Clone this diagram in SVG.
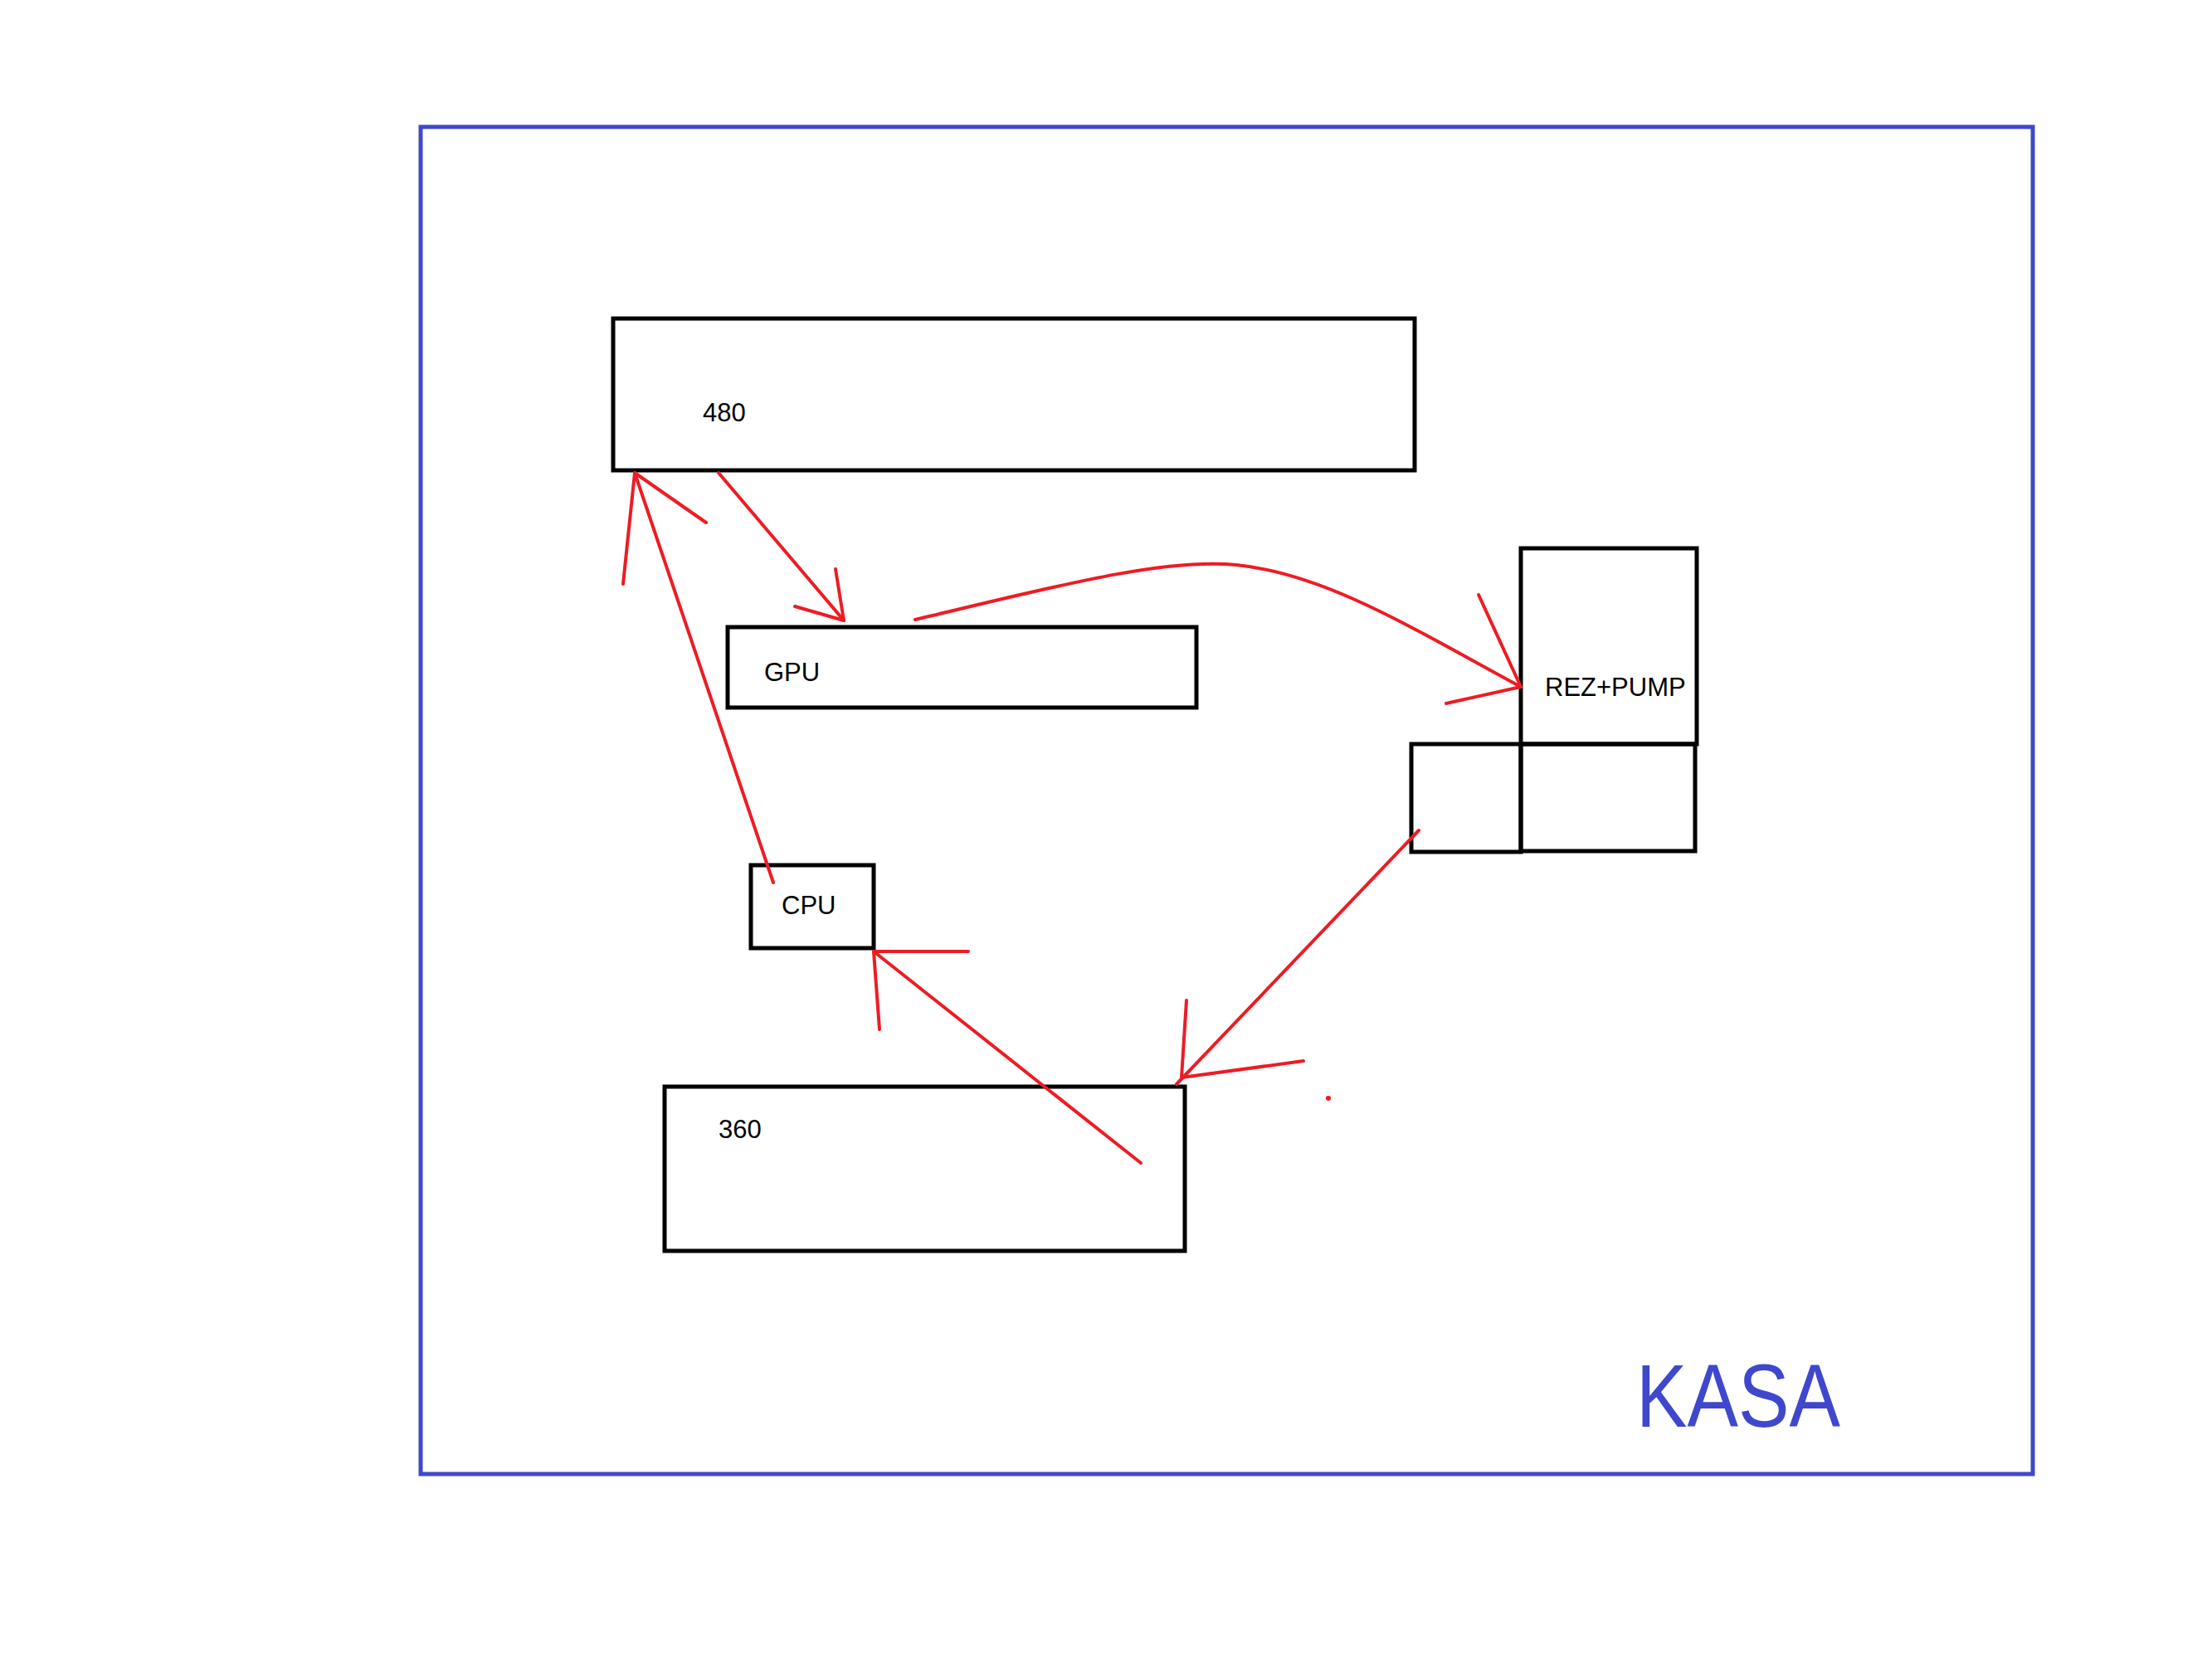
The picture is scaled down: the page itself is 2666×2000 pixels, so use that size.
<svg xmlns="http://www.w3.org/2000/svg" width="2666" height="2000" viewBox="0 0 2666 2000">
<style>
.box{fill:none;stroke:#000;stroke-width:5}
.lbl{font-family:"Liberation Sans","DejaVu Sans",sans-serif;font-size:31px;fill:#000}
.red{fill:none;stroke:#ED1C24;stroke-width:4;stroke-linecap:round;stroke-linejoin:round}
</style>
<rect width="2666" height="2000" fill="#fff"/>
<g id="kasa">
<rect x="507" y="153" width="1943" height="1624" fill="none" stroke="#3F48CC" stroke-width="5"/>
<text x="1972" y="1720" font-family="Liberation Sans, sans-serif" font-size="108" fill="#3F48CC" textLength="246" lengthAdjust="spacingAndGlyphs">KASA</text>
</g>
<g id="rad480">
<rect class="box" x="739" y="384" width="966" height="183"/>
<text class="lbl" x="847" y="508" font-size="33">480</text>
</g>
<g id="gpu">
<rect class="box" x="877" y="756" width="565" height="97"/>
<text class="lbl" x="921" y="821">GPU</text>
</g>
<g id="cpu">
<rect class="box" x="905" y="1043" width="148" height="100"/>
<text class="lbl" x="942" y="1102">CPU</text>
</g>
<g id="rad360">
<rect class="box" x="801" y="1310" width="627" height="198"/>
<text class="lbl" x="866" y="1372" font-size="32">360</text>
</g>
<g id="rezpump">
<rect class="box" x="1833" y="661" width="212" height="236"/>
<rect class="box" x="1701" y="897" width="132" height="130"/>
<rect class="box" x="1833" y="897" width="210" height="129"/>
<text class="lbl" x="1862" y="839">REZ+PUMP</text>
</g>
<g id="connectors">
<line class="red" x1="932" y1="1064" x2="765" y2="570"/>
<polyline class="red" points="751,704 765,570 851,630"/>
<line class="red" x1="866" y1="570" x2="1017" y2="748"/>
<polyline class="red" points="1007,686 1017,748 958,731"/>
<path class="red" stroke-width="4.5" d="M1103,747 C1260,710 1400,672 1490,681 C1600,692 1710,762 1833,828"/>
<polyline class="red" points="1782,717 1833,828 1743,848"/>
<line class="red" x1="1710" y1="1001" x2="1418" y2="1307"/>
<polyline class="red" points="1430,1206 1424,1299 1571,1279"/>
<line class="red" x1="1375" y1="1402" x2="1053" y2="1147"/>
<polyline class="red" points="1060,1241 1053,1147 1167,1147"/>
<circle cx="1601" cy="1324" r="3" fill="#ED1C24"/>
</g>
</svg>
